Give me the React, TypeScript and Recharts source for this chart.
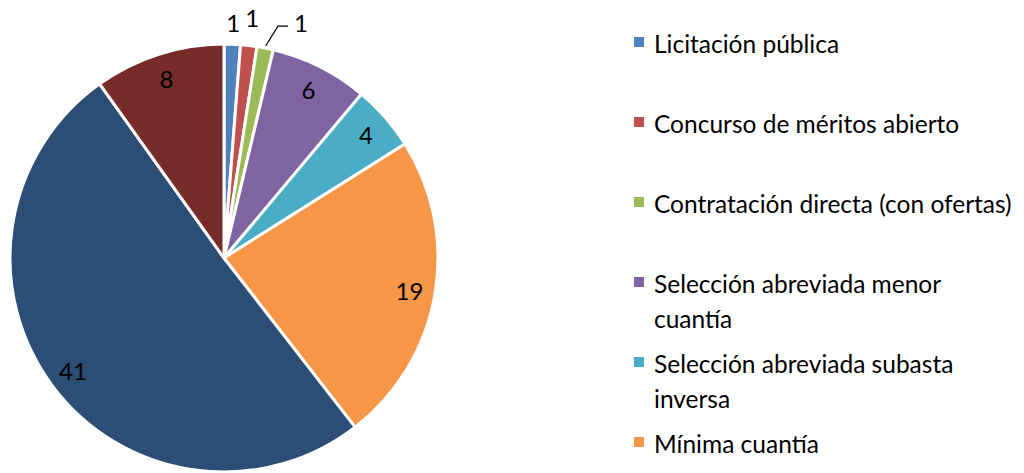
import { PieChart, Pie, Cell, Legend } from 'recharts';

const MODALIDADES = [
  'Licitación pública',
  'Concurso de méritos abierto',
  'Contratación directa (con ofertas)',
  'Selección abreviada menor cuantía',
  'Selección abreviada subasta inversa',
  'Mínima cuantía',
  'Contratación directa (sin ofertas)',
  'Régimen especial',
];

// legend text as it wraps in the original; the last two entries fall below the picture
const LEGEND_LINES = [
  ['Licitación pública'],
  ['Concurso de méritos abierto'],
  ['Contratación directa (con ofertas)'],
  ['Selección abreviada menor', 'cuantía'],
  ['Selección abreviada subasta', 'inversa'],
  ['Mínima cuantía'],
  ['Contratación directa (sin ofertas)'],
  ['Régimen especial'],
];

const CONTRATOS = [1, 1, 1, 6, 4, 19, 41, 8];

const COLORS = ['#4F81BD', '#C0504D', '#9BBB59', '#8064A2', '#4BACC6', '#F79646', '#2C4D75', '#772C2A'];

const data = MODALIDADES.map((name, i) => ({ name, value: CONTRATOS[i] }));

const FONT = 'Lato, "Noto Sans", sans-serif';
const RAD = Math.PI / 180;
const HEIGHT = 473;

function SliceLabel(props: any) {
  const { cx, cy, midAngle, outerRadius, index, value } = props;
  const at = (angle: number, r: number) => ({
    x: cx + r * Math.cos(-angle * RAD),
    y: cy + r * Math.sin(-angle * RAD),
  });
  const textProps = {
    fill: '#000',
    fontSize: 24,
    fontFamily: FONT,
    dominantBaseline: 'central' as const,
  };

  if (value >= 4) {
    const p = at(midAngle, outerRadius * 0.88);
    return (
      <text x={p.x} y={p.y} textAnchor="middle" {...textProps}>
        {value}
      </text>
    );
  }

  // the three tiny slices sit outside the pie
  if (index === 2) {
    const start = at(midAngle, outerRadius + 2);
    const elbow = at(midAngle - 2, outerRadius + 24);
    return (
      <g>
        <polyline
          points={`${start.x},${start.y} ${elbow.x},${elbow.y} ${elbow.x + 10},${elbow.y}`}
          fill="none"
          stroke="#000"
          strokeWidth={1.2}
        />
        <text x={elbow.x + 16} y={elbow.y - 4} textAnchor="start" {...textProps}>
          {value}
        </text>
      </g>
    );
  }
  const p = at(midAngle, outerRadius + (index === 0 ? 22 : 28));
  return (
    <text x={p.x} y={p.y} textAnchor="middle" {...textProps}>
      {value}
    </text>
  );
}

function LegendBox() {
  const rowTop = (i: number) => 43 + 80 * i - 17;
  return (
    <div style={{ position: 'relative', width: 398, height: HEIGHT, fontFamily: FONT, fontSize: 24.5, color: '#000' }}>
      {LEGEND_LINES.map((lines, i) =>
        rowTop(i) + 30 > HEIGHT ? null : (
          <div key={i} style={{ position: 'absolute', left: 0, top: rowTop(i) }}>
            <span
              style={{
                position: 'absolute',
                left: 8,
                top: 11,
                width: 10,
                height: 10,
                background: COLORS[i],
              }}
            />
            <div style={{ marginLeft: 28, lineHeight: '35px', whiteSpace: 'nowrap' }}>
              {lines.map((l, j) => (
                <div key={j}>{l}</div>
              ))}
            </div>
          </div>
        )
      )}
    </div>
  );
}

export default function App() {
  return (
    <div style={{ position: 'absolute', left: 0, top: 0, width: 1024, height: HEIGHT, background: '#fff', overflow: 'hidden' }}>
      <PieChart width={1024} height={HEIGHT} margin={{ top: 0, right: 0, bottom: 0, left: 0 }}>
        <Pie
          data={data}
          dataKey="value"
          nameKey="name"
          cx={224}
          cy={258}
          outerRadius={214}
          startAngle={90}
          endAngle={-270}
          stroke="#fff"
          strokeWidth={3}
          label={SliceLabel}
          labelLine={false}
          isAnimationActive={false}
        >
          {data.map((d, i) => (
            <Cell key={d.name} fill={COLORS[i]} />
          ))}
        </Pie>
        <Legend
          layout="vertical"
          align="right"
          verticalAlign="top"
          content={() => <LegendBox />}
          wrapperStyle={{ position: 'absolute', left: 626, top: 0, width: 398, height: HEIGHT, overflow: 'hidden' }}
        />
      </PieChart>
    </div>
  );
}
